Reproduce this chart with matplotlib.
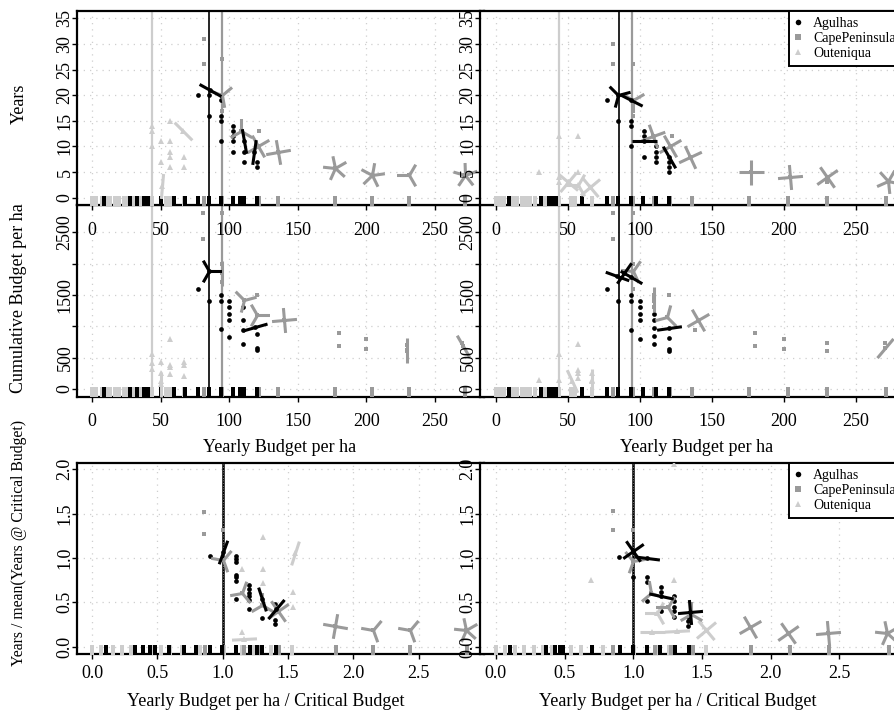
import numpy as np
import matplotlib
matplotlib.use('Agg')
import matplotlib.pyplot as plt
from matplotlib.path import Path
from matplotlib.lines import Line2D

plt.rcParams['font.family'] = ['Liberation Serif', 'DejaVu Serif']
plt.rcParams['font.size'] = 13

sites = ['Agulhas', 'CapePeninsula', 'Outeniqua']
site_col = {'Agulhas': '#000000', 'CapePeninsula': '#9a9a9a', 'Outeniqua': '#cdcdcd'}
site_mk = {'Agulhas': 'o', 'CapePeninsula': 's', 'Outeniqua': '^'}
site_ms = {'Agulhas': 3.4, 'CapePeninsula': 3.3, 'Outeniqua': 4.0}
critical = {'Agulhas': 85.3, 'CapePeninsula': 94.8, 'Outeniqua': 43.7}

# ---- runs at y = 0 (budget per ha), left and right scenario ----
rugL_ag = [9, 28, 33, 38, 41, 50, 60, 68, 77, 85, 94, 103, 108, 111, 120]
rugL_cp = [82, 95, 110, 122, 136, 177, 204, 231, 272]
rugL_ou = [0, 3, 7, 10, 13, 17, 20, 23, 26, 30, 36, 44, 50, 54, 57, 60, 67]
rugR_ag = [9, 31, 37, 40, 42, 60, 77, 85, 94, 102, 111, 120]
rugR_cp = [81, 95, 110, 121, 136, 176, 203, 230, 271]
rugR_ou = [0, 3, 6, 9, 12, 15, 18, 21, 24, 27, 34, 44, 52, 55, 67]

# ---- Years vs yearly budget ----
yrsL_ag_x = [77, 85, 85, 94, 94, 94, 94, 94, 103, 103, 103, 103, 103, 111, 111, 120, 120, 120]
yrsL_ag_y = [20, 20, 16, 20, 19, 16, 15, 11, 14, 13, 12, 11, 9, 9, 7, 10, 7, 6]
yrsL_ag_fl = [(86, 21, 2, -29), (111, 11, 2, 100), (118, 9, 2, 82)]
yrsL_cp_x = [82, 82, 95, 95, 122]
yrsL_cp_y = [31, 26, 27, 17, 13]
yrsL_cp_fl = [(95, 20, 3, 40), (109, 13, 3, 90), (121, 10, 4, 30), (136, 9, 4, 10),
              (177, 5.8, 5, 30), (204, 4.5, 5, 80), (231, 4.5, 3, 60), (272, 4.5, 5, 20)]
yrsL_ou_x = [44, 44, 44, 50, 50, 57, 57, 57, 57, 57, 67, 67]
yrsL_ou_y = [14, 13, 10, 11, 7, 15, 11, 9, 8, 6, 8, 6]
yrsL_ou_fl = [(66, 13, 2, -45), (51, 2.3, 2, 85)]

yrsR_ag_x = [77, 85, 94, 94, 94, 103, 103, 103, 111, 111, 111, 111, 120, 120, 120]
yrsR_ag_y = [19, 15, 15, 14, 10, 13, 12, 8, 10, 9, 8, 7, 7, 6, 5]
yrsR_ag_fl = [(85, 20, 3, 135), (94, 19, 2, -27), (103, 11, 2, 0), (120, 8, 2, -60)]
yrsR_cp_x = [81, 81, 95, 95, 122, 230]
yrsR_cp_y = [30, 26, 26, 16, 12, 3]
yrsR_cp_fl = [(95, 19, 3, 30), (109, 12, 4, 20), (121, 10, 4, 30), (135, 8, 4, 25),
              (177, 5, 4, 0), (204, 4, 4, 5), (230, 4, 4, 35), (272, 3.2, 5, 60)]
yrsR_ou_x = [30, 44, 44, 44, 57, 57]
yrsR_ou_y = [5, 12, 4, 3, 12, 5]
yrsR_ou_fl = [(50, 3, 4, 50), (57, 2.5, 3, 60), (65, 2.2, 4, 40)]

# ---- Cumulative budget vs yearly budget ----
cumL_ag_x = [77, 85, 94, 94, 94, 100, 100, 100, 100, 100, 110, 110, 110, 110, 120, 120, 120]
cumL_ag_y = [1600, 1400, 1500, 1400, 950, 1400, 1300, 1200, 1100, 830, 1300, 1100, 940, 710, 870, 650, 620]
cumL_ag_fl = [(85, 1890, 3, 0), (119, 985, 2, 16)]
cumL_cp_x = [81, 81, 95, 95, 95, 120, 180, 180, 200, 200, 230, 230, 270]
cumL_cp_y = [2800, 2400, 2800, 2000, 1710, 1500, 890, 690, 790, 640, 700, 600, 730]
cumL_cp_fl = [(95, 1850, 2, 90), (111, 1420, 3, 135), (120, 1180, 3, 120),
              (140, 1100, 4, 5), (230, 620, 2, 90), (271, 690, 2, -60)]
cumL_ou_x = [44, 44, 44, 50, 50, 50, 57, 57, 57, 57, 67, 67, 67]
cumL_ou_y = [560, 410, 320, 430, 250, 120, 790, 390, 355, 235, 435, 380, 210]
cumL_ou_fl = [(50, 80, 2, 90)]

cumR_ag_x = [77, 85, 94, 94, 94, 100, 100, 100, 100, 100, 110, 110, 110, 110, 110, 120, 120, 120]
cumR_ag_y = [1600, 1400, 1500, 1400, 940, 1400, 1300, 1190, 1100, 790, 1190, 1100, 970, 840, 710, 810, 630, 600]
cumR_ag_fl = [(84, 1810, 2, -20), (94, 1780, 2, -30), (89, 1850, 2, 55), (120, 970, 2, 8)]
cumR_cp_x = [81, 81, 95, 95, 95, 110, 110, 110, 120, 138, 180, 180, 200, 200, 230, 230, 270]
cumR_cp_y = [2800, 2400, 2800, 2000, 1600, 1500, 1400, 1300, 1500, 940, 900, 690, 790, 640, 730, 600, 730]
cumR_cp_fl = [(95, 1880, 3, -65), (110, 1430, 2, 90), (119, 1150, 3, 75),
              (140, 1100, 4, 30), (270, 660, 2, 50)]
cumR_ou_x = [30, 44, 44, 57, 57, 57, 57, 67, 67]
cumR_ou_y = [150, 560, 150, 720, 300, 250, 170, 250, 140]
cumR_ou_fl = [(53, 120, 2, -65), (67, 120, 2, 90)]

# ---- Years relative to years at critical budget ----
relL_ag_x = [0.9, 1.1, 1.1, 1.1, 1.1, 1.1, 1.1, 1.1, 1.2, 1.2, 1.2, 1.2, 1.2, 1.2, 1.3, 1.4, 1.4, 1.4]
relL_ag_y = [1.02, 1.02, 0.99, 0.96, 0.81, 0.78, 0.74, 0.54, 0.70, 0.65, 0.60, 0.57, 0.53, 0.43, 0.32, 0.48, 0.30, 0.26]
relL_ag_fl = [(1.0, 1.07, 2, 70), (1.3, 0.54, 2, -72), (1.41, 0.43, 2, 50)]
relL_cp_x = [0.86, 0.86, 1.0]
relL_cp_y = [1.52, 1.27, 1.32]
relL_cp_fl = [(1.0, 0.98, 3, 170), (1.15, 0.6, 3, 190), (1.3, 0.47, 3, 90), (1.42, 0.4, 4, 35),
              (1.86, 0.23, 4, 80), (2.15, 0.19, 3, 170), (2.43, 0.19, 3, 170), (2.86, 0.19, 5, 30)]
relL_ou_x = [1.15, 1.31, 1.31, 1.31, 1.15, 1.54, 1.54]
relL_ou_y = [0.88, 1.24, 0.88, 0.72, 0.17, 0.62, 0.45]
relL_ou_fl = [(1.16, 0.09, 2, 3), (1.55, 1.06, 2, 72)]

relR_ag_x = [0.9, 1.0, 1.1, 1.1, 1.1, 1.2, 1.2, 1.2, 1.3, 1.3, 1.3, 1.3, 1.3, 1.4, 1.4, 1.4]
relR_ag_y = [1.01, 0.79, 0.79, 0.73, 0.51, 0.67, 0.62, 0.40, 0.57, 0.51, 0.45, 0.40, 0.34, 0.34, 0.29, 0.23]
relR_ag_fl = [(1.0, 1.08, 4, 35), (1.1, 1.0, 2, -7), (1.2, 0.57, 2, -12), (1.41, 0.39, 4, 5)]
relR_cp_x = [0.855, 0.855, 1.0]
relR_cp_y = [1.53, 1.32, 1.32]
relR_cp_fl = [(1.0, 0.97, 3, 130), (1.13, 0.6, 3, 100), (1.25, 0.45, 3, 60), (1.42, 0.37, 3, 90),
              (1.85, 0.22, 4, 30), (2.13, 0.16, 4, 35), (2.42, 0.16, 4, 5), (2.85, 0.15, 5, 30)]
relR_ou_x = [0.69, 1.3, 1.3]
relR_ou_y = [0.75, 0.75, 2.06]
relR_ou_fl = [(1.17, 0.38, 3, 60), (1.14, 0.17, 2, 0), (1.32, 0.18, 2, 3), (1.53, 0.19, 4, 40)]


def flower(n, angle):
    # petals radiating from the centre; the leading MOVETO pins the marker scale
    verts, codes = [(1, 0)], [Path.MOVETO]
    for k in range(n):
        a = np.radians(angle + 360.0 * k / n)
        verts += [(0, 0), (np.cos(a), np.sin(a))]
        codes += [Path.MOVETO, Path.LINETO]
    return Path(verts, codes)


rug_mk = [(-0.24, -1.0), (0.24, -1.0), (0.24, 0.25), (-0.24, 0.25)]


def draw(ax, data, rug, xlim, ylim, xticks, yticks, ytl, xfmt, vlines):
    ax.set_xlim(*xlim)
    ax.set_ylim(*ylim)
    ax.set_xticks(xticks)
    ax.set_xticklabels([xfmt(v) for v in xticks])
    ax.set_yticks(yticks)
    ax.set_yticklabels(ytl)
    ax.grid(True, color='#cfcfcf', linestyle=(0, (1, 4)), linewidth=0.9)
    ax.set_axisbelow(True)
    for sp in ax.spines.values():
        sp.set_linewidth(1.6)
    ax.tick_params(direction='out', length=3.6, width=1.0)
    for lab in ax.get_yticklabels():
        lab.set_rotation(90)
        lab.set_va('center')
    for xv, col, lw, ls in vlines:
        ax.axvline(xv, color=col, lw=lw, ls=ls, zorder=1.5)
    for s in ['Outeniqua', 'CapePeninsula', 'Agulhas']:
        c = site_col[s]
        r = rug[s]
        ax.plot(r, np.zeros(len(r)), ls='none', marker=rug_mk, ms=11, mfc=c, mec=c, mew=0, zorder=3)
        x, y, fl = data[s]
        ax.plot(x, y, ls='none', marker=site_mk[s], ms=site_ms[s], color=c, mew=0, zorder=3)
        for fx, fy, n, ang in fl:
            ax.plot([fx], [fy], ls='none', marker=flower(n, ang), ms=18, mew=2.2,
                    mec=c, mfc='none', zorder=4)
            ax.plot([fx], [fy], ls='none', marker=site_mk[s], ms=site_ms[s], color=c, mew=0, zorder=4)


W, H = 894, 711
fig = plt.figure(figsize=(W / 100, H / 100), dpi=100)


def box(x0, y0, x1, y1):
    return [x0 / W, 1 - y1 / H, (x1 - x0) / W, (y1 - y0) / H]


cols = {'L': (77, 484), 'R': (480, 908)}
rows = {'yrs': (11, 205), 'cum': (205, 397), 'rel': (463, 654)}
zo = {('cum', 'L'): 0, ('yrs', 'L'): 1, ('rel', 'L'): 0,
      ('cum', 'R'): 2, ('yrs', 'R'): 3, ('rel', 'R'): 2}

panels = {
    ('yrs', 'L'): {'Agulhas': (yrsL_ag_x, yrsL_ag_y, yrsL_ag_fl),
                   'CapePeninsula': (yrsL_cp_x, yrsL_cp_y, yrsL_cp_fl),
                   'Outeniqua': (yrsL_ou_x, yrsL_ou_y, yrsL_ou_fl)},
    ('yrs', 'R'): {'Agulhas': (yrsR_ag_x, yrsR_ag_y, yrsR_ag_fl),
                   'CapePeninsula': (yrsR_cp_x, yrsR_cp_y, yrsR_cp_fl),
                   'Outeniqua': (yrsR_ou_x, yrsR_ou_y, yrsR_ou_fl)},
    ('cum', 'L'): {'Agulhas': (cumL_ag_x, cumL_ag_y, cumL_ag_fl),
                   'CapePeninsula': (cumL_cp_x, cumL_cp_y, cumL_cp_fl),
                   'Outeniqua': (cumL_ou_x, cumL_ou_y, cumL_ou_fl)},
    ('cum', 'R'): {'Agulhas': (cumR_ag_x, cumR_ag_y, cumR_ag_fl),
                   'CapePeninsula': (cumR_cp_x, cumR_cp_y, cumR_cp_fl),
                   'Outeniqua': (cumR_ou_x, cumR_ou_y, cumR_ou_fl)},
    ('rel', 'L'): {'Agulhas': (relL_ag_x, relL_ag_y, relL_ag_fl),
                   'CapePeninsula': (relL_cp_x, relL_cp_y, relL_cp_fl),
                   'Outeniqua': (relL_ou_x, relL_ou_y, relL_ou_fl)},
    ('rel', 'R'): {'Agulhas': (relR_ag_x, relR_ag_y, relR_ag_fl),
                   'CapePeninsula': (relR_cp_x, relR_cp_y, relR_cp_fl),
                   'Outeniqua': (relR_ou_x, relR_ou_y, relR_ou_fl)},
}
rugs = {'L': {'Agulhas': rugL_ag, 'CapePeninsula': rugL_cp, 'Outeniqua': rugL_ou},
        'R': {'Agulhas': rugR_ag, 'CapePeninsula': rugR_cp, 'Outeniqua': rugR_ou}}

crit_lines = [(critical['Outeniqua'], site_col['Outeniqua'], 1.6, '-'),
              (critical['Agulhas'], 'black', 1.2, '-'),
              (critical['CapePeninsula'], site_col['CapePeninsula'], 1.6, '-')]
rel_lines = [(1.0, 'black', 1.8, '-'), (1.0, 'white', 0.6, (0, (0.6, 2.6)))]

axes = {}
for (row, col), data in panels.items():
    x0, x1 = cols[col]
    y0, y1 = rows[row]
    ax = fig.add_axes(box(x0, y0, x1, y1), zorder=zo[(row, col)])
    ax.set_facecolor('white')
    if row == 'rel':
        rug = {s: list(np.array(rugs[col][s]) / critical[s]) for s in sites}
        draw(ax, data, rug, (-0.115, 3.0), (-0.082, 2.07),
             [0, 0.5, 1.0, 1.5, 2.0, 2.5], [0, 0.5, 1.0, 1.5, 2.0],
             ['0.0', '0.5', '1.0', '1.5', '2.0'], lambda v: '%.1f' % v, rel_lines)
        ax.tick_params(axis='x', pad=4.2)
    elif row == 'yrs':
        draw(ax, data, rugs[col], (-11, 286), (-1.4, 36.4),
             [0, 50, 100, 150, 200, 250], list(range(0, 40, 5)),
             [str(v) for v in range(0, 40, 5)], lambda v: '%d' % v, crit_lines)
        ax.tick_params(axis='x', pad=8.3)
    else:
        draw(ax, data, rugs[col], (-11, 286), (-128, 2935),
             [0, 50, 100, 150, 200, 250], [0, 500, 1000, 1500, 2000, 2500],
             ['0', '500', '', '1500', '', '2500'], lambda v: '%d' % v, crit_lines)
        ax.tick_params(axis='x', pad=8.0)
    ax.tick_params(axis='y', pad=-1)
    axes[(row, col)] = ax

handles = [Line2D([], [], ls='none', marker=site_mk[s], ms=site_ms[s] + 0.6, color=site_col[s], mew=0)
           for s in sites]
for row in ['yrs', 'rel']:
    ax = axes[(row, 'R')]
    leg = ax.legend(handles, sites, loc='upper left', bbox_to_anchor=((789 - 480) / 428, 1.0),
                    borderaxespad=0, fontsize=10, handlelength=0.4, handletextpad=0.9,
                    borderpad=0.45, labelspacing=0.12, fancybox=False, framealpha=1)
    leg.get_frame().set_edgecolor('black')
    leg.get_frame().set_linewidth(1.4)

fig.text(19.5 / W, 1 - 104 / H, 'Years', rotation=90, ha='center', va='center')
fig.text(19 / W, 1 - 298 / H, 'Cumulative Budget per ha', rotation=90, ha='center', va='center')
fig.text(19 / W, 1 - 543 / H, 'Years / mean(Years @ Critical Budget)', rotation=90,
         ha='center', va='center', fontsize=11.3)
for xc in (280, 697):
    fig.text(xc / W, 1 - 447 / H, 'Yearly Budget per ha', ha='center', va='center')
for xc in (266, 678):
    fig.text(xc / W, 1 - 702 / H, 'Yearly Budget per ha / Critical Budget', ha='center', va='center')

fig.savefig('out.png', dpi=100)
